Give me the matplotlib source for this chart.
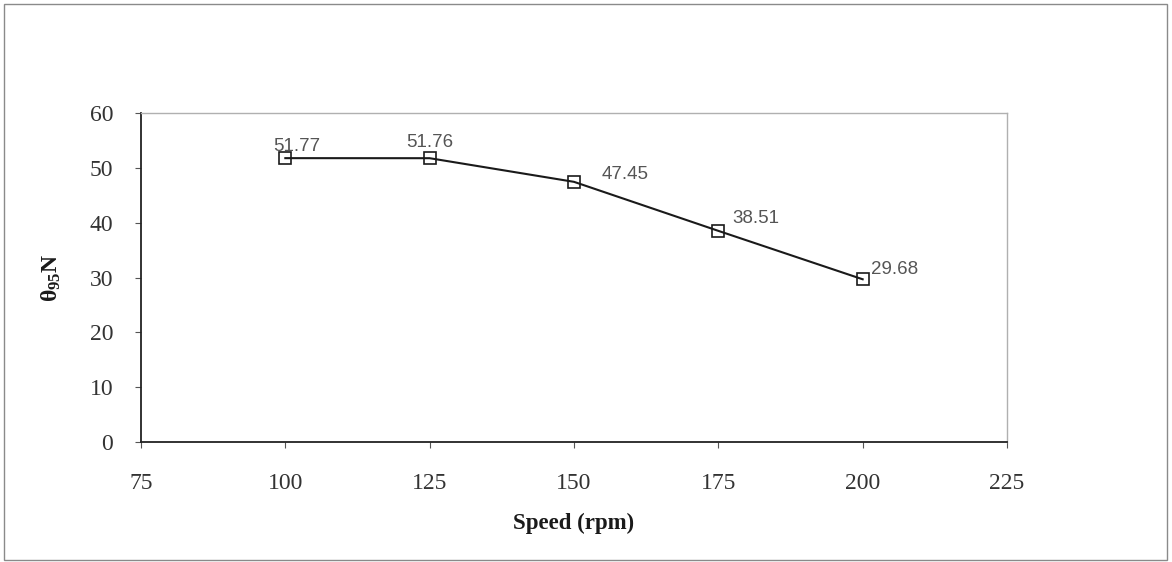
import matplotlib.pyplot as plt
from matplotlib.patches import Rectangle

# data
speed = [100, 125, 150, 175, 200]
theta95 = [51.77, 51.76, 47.45, 38.51, 29.68]
x_ticks = [75, 100, 125, 150, 175, 200, 225]
y_ticks = [0, 10, 20, 30, 40, 50, 60]

# label offsets in points (dx, dy), the way the old Excel chart placed them
label_offsets = [(-9, 2), (0, 5), (20, -1), (10, 3), (6, 1)]
label_ha = ['left', 'center', 'left', 'left', 'left']

plt.rcParams['mathtext.fontset'] = 'custom'
plt.rcParams['mathtext.rm'] = 'Liberation Serif'
plt.rcParams['mathtext.it'] = 'Liberation Serif:italic'
plt.rcParams['mathtext.bf'] = 'Liberation Serif:bold'

fig = plt.figure(figsize=(11.72, 5.62), dpi=100)
fig.patch.set_facecolor('white')

# outer frame around the whole chart
fig.patches.append(Rectangle((0.003, 0.004), 0.993, 0.988, transform=fig.transFigure,
                             fill=False, edgecolor='#8a8a8a', linewidth=1.0))

ax = fig.add_axes([0.1203, 0.2135, 0.7389, 0.5854])

ax.plot(speed, theta95, color='#1a1a1a', linewidth=1.5, marker='s', markersize=9,
        markerfacecolor='none', markeredgecolor='#1a1a1a', markeredgewidth=1.2)

for x, y, (dx, dy), ha in zip(speed, theta95, label_offsets, label_ha):
    ax.annotate(f'{y:.2f}', (x, y), xytext=(dx, dy), textcoords='offset points',
                ha=ha, va='bottom', fontsize=13.5, color='#555555',
                family='Liberation Sans')

ax.set_xlim(75, 225)
ax.set_ylim(0, 60)
ax.set_xticks(x_ticks)
ax.set_yticks(y_ticks)

for lab in ax.get_xticklabels() + ax.get_yticklabels():
    lab.set_family('Liberation Serif')
    lab.set_fontsize(17)
    lab.set_color('#333333')

ax.tick_params(axis='both', direction='out', length=4, width=0.8, color='#555555')
ax.tick_params(axis='x', pad=18)
ax.tick_params(axis='y', pad=16)

ax.spines['left'].set_color('#222222')
ax.spines['bottom'].set_color('#222222')
ax.spines['left'].set_linewidth(1.3)
ax.spines['bottom'].set_linewidth(1.3)
ax.spines['top'].set_color('#b0b0b0')
ax.spines['right'].set_color('#b0b0b0')
ax.spines['top'].set_linewidth(1.0)
ax.spines['right'].set_linewidth(1.0)

ax.set_xlabel('Speed (rpm)', family='Liberation Serif', fontsize=16.5,
              fontweight='bold', color='#1a1a1a', labelpad=14)
ax.set_ylabel(r'$\mathbf{\theta_{95}}$N', family='Liberation Serif', fontsize=17,
              fontweight='bold', color='#1a1a1a', labelpad=19)

fig.savefig('out.png', dpi=100)
